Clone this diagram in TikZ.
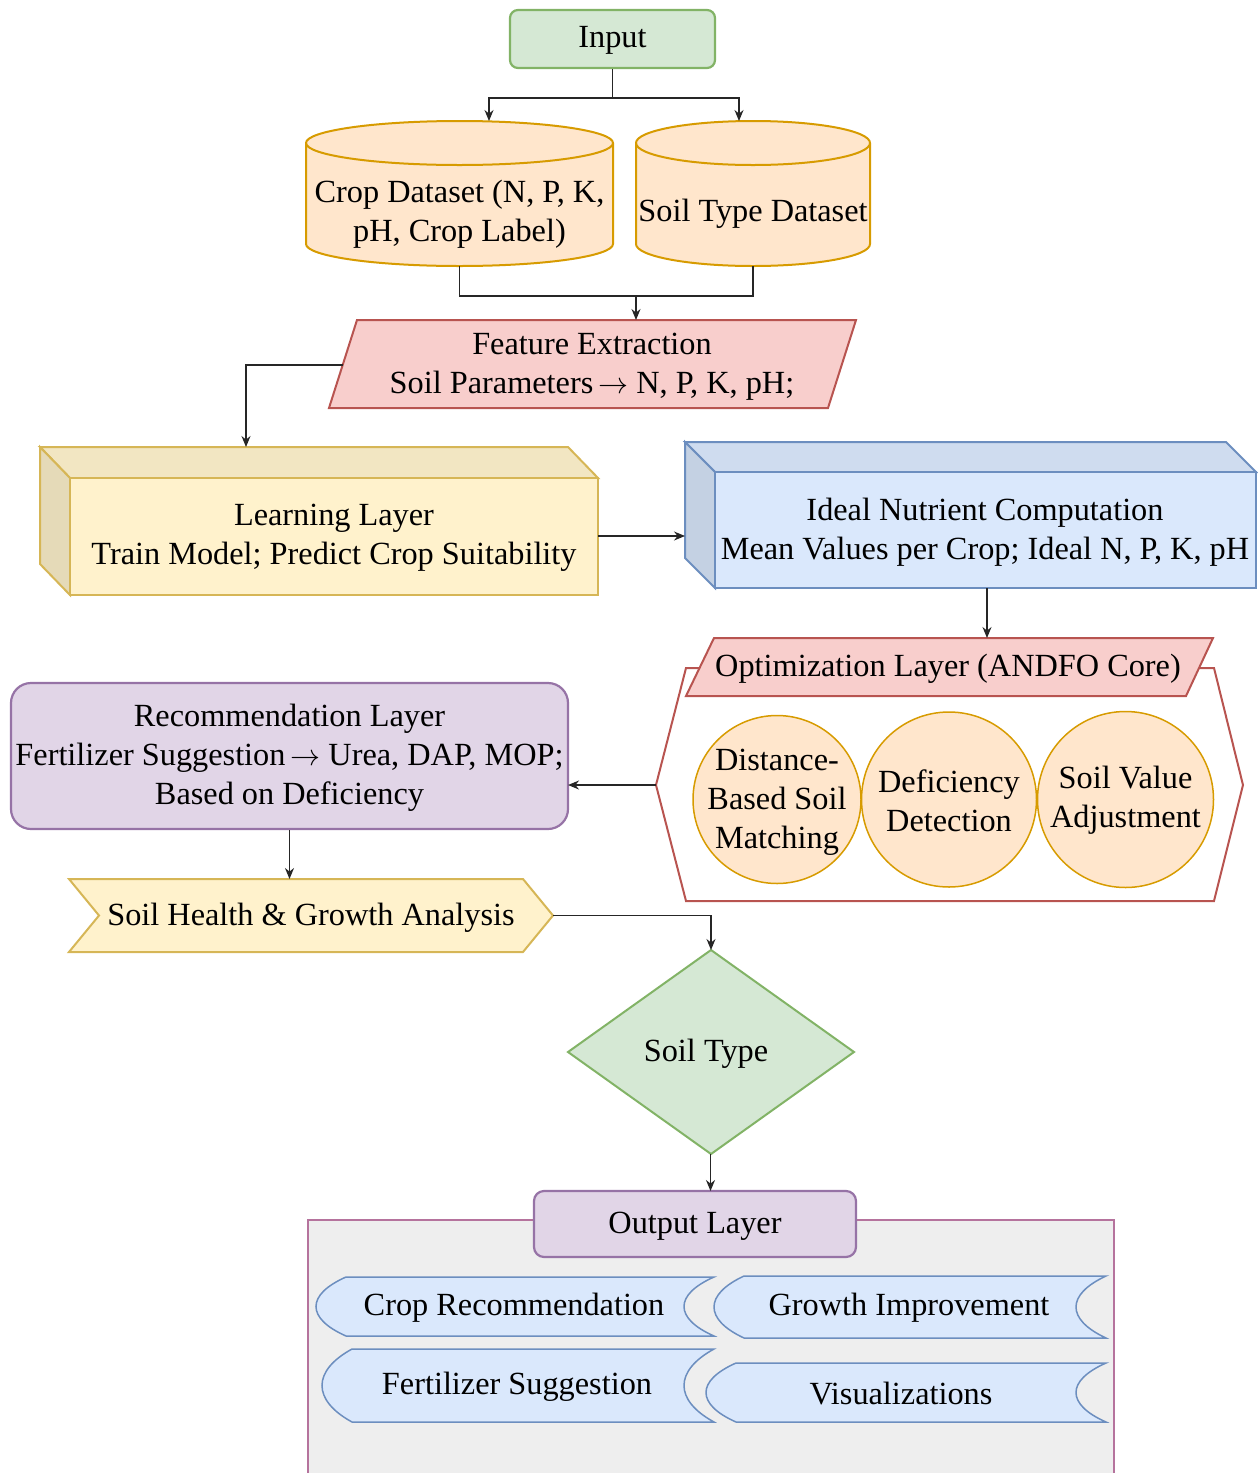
\documentclass[tikz,border=0pt]{standalone}
\usepackage{fontspec}
\usepackage{graphicx}
\setmainfont{Liberation Serif}
\usetikzlibrary{arrows.meta,calc}
\definecolor{gfill}{HTML}{D5E8D4}\definecolor{gline}{HTML}{82B366}
\definecolor{ofill}{HTML}{FFE6CC}\definecolor{oline}{HTML}{D79B00}
\definecolor{rfill}{HTML}{F8CECC}\definecolor{rline}{HTML}{B85450}
\definecolor{yfill}{HTML}{FFF2CC}\definecolor{yline}{HTML}{D6B656}
\definecolor{bfill}{HTML}{DAE8FC}\definecolor{bline}{HTML}{6C8EBF}
\definecolor{pfill}{HTML}{E1D5E7}\definecolor{pline}{HTML}{9673A6}
\definecolor{grayfill}{HTML}{EEEEEE}\definecolor{mline}{HTML}{B5739D}
\newcommand{\scrollshape}[4]{%
  \path[shp, draw=bline, fill=bfill, line width=1.5pt]
    ({#1+30},#2) -- (#3,#2)
    .. controls ({#3-40},{#2+0.3*(#4-#2)}) and ({#3-40},{#4-0.3*(#4-#2)}) .. (#3,#4)
    -- ({#1+30},#4)
    .. controls ({#1-10},{#4-0.3*(#4-#2)}) and ({#1-10},{#2+0.3*(#4-#2)}) .. ({#1+30},#2) -- cycle;}
\newcommand{\rarr}{\hspace{5pt}{\fontsize{10}{12}\selectfont\scalebox{3.0}{$\rightarrow$}}\hspace{8pt}}
\begin{document}
\begin{tikzpicture}[x=1pt,y=-1pt, font=\fontsize{32.3}{39}\selectfont,
  conn/.style={draw=black!85, line width=1.3pt, -{Stealth[length=11pt,width=9pt]}},
  plain/.style={draw=black!85, line width=1.3pt},
  lbl/.style={align=center, inner sep=0pt},
  shp/.style={line width=2pt}]
\useasboundingbox (0,0) rectangle (1258,1473);

% Input
\node[draw=gline, fill=gfill, rounded corners=8pt, line width=2.2pt, minimum width=205pt, minimum height=58pt] (input) at (612.5,39) {};
\node[lbl] (inputt) at (612.5,40) {Input};

% Cylinders
\path[shp, draw=oline, fill=ofill] (306,143) -- (306,244) arc[start angle=180,end angle=360,x radius=153.5pt,y radius=22pt] -- (613,143) arc[start angle=0,end angle=180,x radius=153.5pt,y radius=22pt] -- cycle;
\draw[shp, draw=oline] (306,143) arc[start angle=180,end angle=360,x radius=153.5pt,y radius=22pt];
\node[lbl] (crop) at (459.5,214.5) {Crop Dataset (N, P, K,\\pH, Crop Label)};
\path[shp, draw=oline, fill=ofill] (636,143) -- (636,244) arc[start angle=180,end angle=360,x radius=117pt,y radius=22pt] -- (870,143) arc[start angle=0,end angle=180,x radius=117pt,y radius=22pt] -- cycle;
\draw[shp, draw=oline] (636,143) arc[start angle=180,end angle=360,x radius=117pt,y radius=22pt];
\node[lbl] (soil) at (753,214) {Soil Type Dataset};
\coordinate (croptop) at (489,121);
\coordinate (soiltop) at (739,121);
\coordinate (cropbot) at (459.5,266);
\coordinate (soilbot) at (753,266);

% Feature extraction
\path[shp, draw=rline, fill=rfill] (357,320) -- (856,320) -- (828,408) -- (329,408) -- cycle;
\node[lbl] (feat) at (592,367) {Feature Extraction\\Soil Parameters\rarr N, P, K, pH;};
\coordinate (feattop) at (636,320);
\coordinate (featleft) at (343,365);
\coordinate (join) at (636,296);

% Learning layer cube
\path[shp, draw=yline, fill=yfill!95!black] (40,447) -- (568,447) -- (598,478) -- (70,478) -- cycle;
\path[shp, draw=yline, fill=yfill!90!black] (40,447) -- (70,478) -- (70,595) -- (40,564) -- cycle;
\path[shp, draw=yline, fill=yfill] (70,478) rectangle (598,595);
\node[lbl] (learn) at (334,538) {Learning Layer\\Train Model; Predict Crop Suitability};
\coordinate (learntop) at (246,447);
\coordinate (learnright) at (598,536);

% Ideal nutrient cube
\path[shp, draw=bline, fill=bfill!95!black] (685,442) -- (1226,442) -- (1256,472) -- (715,472) -- cycle;
\path[shp, draw=bline, fill=bfill!90!black] (685,442) -- (715,472) -- (715,588) -- (685,558) -- cycle;
\path[shp, draw=bline, fill=bfill] (715,472) rectangle (1256,588);
\node[lbl] (ideal) at (985,532.5) {Ideal Nutrient Computation\\Mean Values per Crop; Ideal N, P, K, pH};
\coordinate (idealleft) at (685,536);
\coordinate (idealbot) at (987,588);

% Optimization layer
\path[shp, draw=rline] (656,785) -- (686,668) -- (1214,668) -- (1243,785) -- (1214,901) -- (686,901) -- cycle;
\coordinate (hexleft) at (656,785);
\path[shp, draw=rline, fill=rfill] (714,638) -- (1213,638) -- (1186,696) -- (686,696) -- cycle;
\node[lbl] (opt) at (948,669) {Optimization Layer (ANDFO Core)};
\coordinate (opttop) at (987,638);
\node[circle, draw=oline, fill=ofill, line width=1.5pt, minimum size=168pt, inner sep=0pt] (c1) at (777,799.5) {};
\node[lbl] (c1t) at (777,802) {Distance-\\Based Soil\\Matching};
\node[circle, draw=oline, fill=ofill, line width=1.5pt, minimum size=175pt, inner sep=0pt] (c2) at (949,799.5) {};
\node[lbl] (c2t) at (949,800.5) {Deficiency\\Detection};
\node[circle, draw=oline, fill=ofill, line width=1.5pt, minimum size=176pt, inner sep=0pt] (c3) at (1125.5,799.5) {};
\node[lbl] (c3t) at (1125.5,800.5) {Soil Value\\Adjustment};

% Recommendation layer
\node[draw=pline, fill=pfill, rounded corners=20pt, line width=2.2pt, minimum width=557pt, minimum height=146pt, inner sep=0pt] (rec) at (289.5,756) {};
\node[lbl] (rect) at (289.5,758) {Recommendation Layer\\Fertilizer Suggestion\rarr Urea, DAP, MOP;\\Based on Deficiency};
\coordinate (recright) at (568,785);
\coordinate (shtop) at (289.5,879);

% Soil health step
\path[shp, draw=yline, fill=yfill] (69,879) -- (523,879) -- (553,915.5) -- (523,952) -- (69,952) -- (99,915.5) -- cycle;
\node[lbl] (health) at (311,917.5) {Soil Health \& Growth Analysis};
\coordinate (shright) at (553,915.5);

% Diamond
\path[shp, draw=gline, fill=gfill] (711,950) -- (854,1052) -- (711,1154) -- (568,1052) -- cycle;
\node[lbl] (stype) at (706,1054) {Soil Type};
\coordinate (dtop) at (711,950);
\coordinate (dbot) at (710.5,1154);

% Output container
\path[draw=mline, fill=grayfill, line width=2pt] (308,1220) -- (308,1480) -- (1114,1480) -- (1114,1220) -- cycle;
\node[draw=pline, fill=pfill, rounded corners=10pt, line width=2.2pt, minimum width=322pt, minimum height=66pt] (out) at (695,1224) {};
\node[lbl] (outt) at (695,1226) {Output Layer};
\coordinate (outtop) at (710.5,1191);

\scrollshape{316}{1277}{714}{1336}
\node[lbl] (o1) at (514,1308) {Crop Recommendation};
\scrollshape{714}{1276}{1106}{1338}
\node[lbl] (o2) at (909,1308) {Growth Improvement};
\scrollshape{322}{1349}{714}{1422}
\node[lbl] (o3) at (517,1387) {Fertilizer Suggestion};
\scrollshape{706}{1363}{1106}{1422}
\node[lbl] (o4) at (901,1394) {Visualizations};

% Connectors
\draw[conn] (input.south) -- ++(0,29) -| (croptop);
\draw[conn] (input.south) -- ++(0,29) -| (soiltop);
\draw[plain] (cropbot) -- ++(0,30) -| (soilbot);
\draw[conn] (join) -- (feattop);
\draw[conn] (featleft) -| (learntop);
\draw[conn] (learnright) -- (idealleft);
\draw[conn] (idealbot) -- (opttop);
\draw[conn] (hexleft) -- (recright);
\draw[conn] (rec.south) -- (shtop);
\draw[conn] (shright) -| (dtop);
\draw[conn] (dbot) -- (outtop);
\end{tikzpicture}
\end{document}
